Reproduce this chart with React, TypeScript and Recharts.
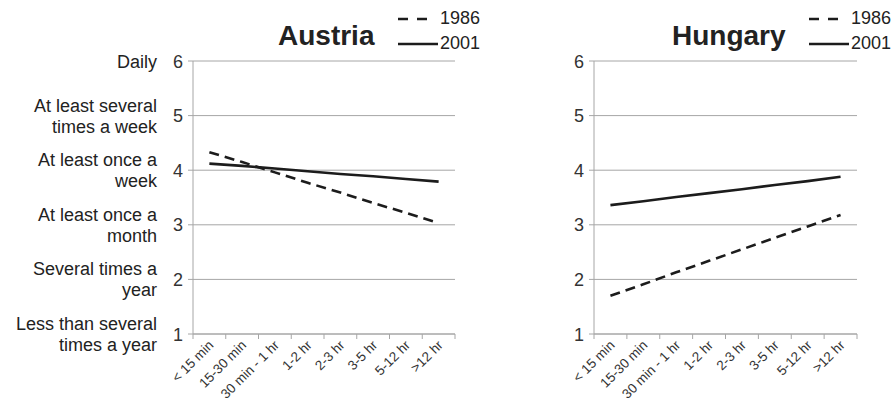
import { LineChart, Line, XAxis, YAxis, CartesianGrid, Legend } from "recharts"

const categories = ["< 15 min", "15-30 min", "30 min - 1 hr", "1-2 hr", "2-3 hr", "3-5 hr", "5-12 hr", ">12 hr"]
const austria1986 = [4.33, 4.15, 3.96, 3.77, 3.59, 3.4, 3.22, 3.03]
const austria2001 = [4.12, 4.08, 4.03, 3.98, 3.93, 3.89, 3.84, 3.79]
const hungary1986 = [1.7, 1.91, 2.13, 2.34, 2.55, 2.76, 2.97, 3.18]
const hungary2001 = [3.36, 3.43, 3.51, 3.58, 3.65, 3.73, 3.8, 3.88]
const yTicks = [1, 2, 3, 4, 5, 6]
const frequencyLabels = [
  ["Less than several", "times a year"],
  ["Several times a", "year"],
  ["At least once a", "month"],
  ["At least once a", "week"],
  ["At least several", "times a week"],
  ["Daily"],
]

const FONT = '"Liberation Sans", Arial, Helvetica, sans-serif'
const GRID = "#a6a6a6"
const INK = "#1c1c1c"

const series = [
  { key: "y1986", name: "1986", dash: "10 6", legendDash: "10 9" },
  { key: "y2001", name: "2001", dash: undefined, legendDash: undefined },
]

function buildRows(a: number[], b: number[]) {
  return categories.map((c, i) => ({ cat: c, y1986: a[i], y2001: b[i] }))
}

function YTick(props: any) {
  const { x, y, payload, showLabels } = props
  const v = payload.value
  const lines = frequencyLabels[v - 1] || []
  return (
    <g fontFamily={FONT}>
      <text x={x} y={y} dy={6.5} textAnchor="end" fontSize={18} fill="#333">
        {v}
      </text>
      {showLabels &&
        lines.map((l, i) => (
          <text
            key={i}
            x={x - 26}
            y={y + (i - (lines.length - 1) / 2) * 21}
            dy={6.5}
            textAnchor="end"
            fontSize={18}
            fill="#222"
          >
            {l}
          </text>
        ))}
    </g>
  )
}

function XTick(props: any) {
  const { x, y, payload, index } = props
  const off = payload.offset ?? 0
  return (
    <g fontFamily={FONT}>
      <line x1={x - off} y1={y} x2={x - off} y2={y + 5} stroke={GRID} />
      {index === categories.length - 1 && <line x1={x + off} y1={y} x2={x + off} y2={y + 5} stroke={GRID} />}
      <text transform={`translate(${x + 5},${y + 12}) rotate(-45)`} textAnchor="end" fontSize={13.5} fill="#333">
        {payload.value}
      </text>
    </g>
  )
}

function LegendContent(props: any) {
  const { payload } = props
  return (
    <div style={{ fontFamily: FONT }}>
      {(payload || []).map((e: any) => {
        const s = series.find((q) => q.name === e.value)
        const dashed = !!s?.legendDash
        return (
          <div key={e.value} style={{ display: "flex", alignItems: "center", height: 25 }}>
            <svg width={42} height={10} style={{ display: "block" }}>
              <line x1={0} y1={5} x2={dashed ? 29 : 40} y2={5} stroke={INK} strokeWidth={2.5} strokeDasharray={s?.legendDash} />
            </svg>
            <span style={{ fontSize: 18, color: "#222", lineHeight: "25px" }}>{e.value}</span>
          </div>
        )
      })}
    </div>
  )
}

function Panel({ rows, width, margin, yWidth, showLabels, legendLeft }: any) {
  return (
    <LineChart width={width} height={408} data={rows} margin={margin}>
      <CartesianGrid vertical={false} stroke={GRID} />
      <XAxis
        dataKey="cat"
        scale="band"
        height={74}
        interval={0}
        tickSize={0}
        tickMargin={0}
        tickLine={false}
        axisLine={{ stroke: GRID }}
        tick={(p: any) => <XTick {...p} />}
      />
      <YAxis
        width={yWidth}
        domain={[1, 6]}
        ticks={yTicks}
        type="number"
        tickSize={5}
        tickMargin={5}
        axisLine={{ stroke: GRID }}
        tickLine={{ stroke: GRID }}
        tick={(p: any) => <YTick {...p} showLabels={showLabels} />}
      />
      <Legend
        content={<LegendContent />}
        layout="vertical"
        align="center"
        verticalAlign="middle"
        wrapperStyle={{ position: "absolute", top: 6, left: legendLeft, width: 90, bottom: "auto", right: "auto" }}
      />
      {series.map((s) => (
        <Line
          key={s.key}
          dataKey={s.key}
          name={s.name}
          stroke={INK}
          strokeWidth={2.6}
          strokeDasharray={s.dash}
          dot={false}
          activeDot={false}
          isAnimationActive={false}
        />
      ))}
    </LineChart>
  )
}

export default function App() {
  return (
    <div style={{ position: "absolute", left: 0, top: 0, width: 894, height: 408, background: "#fff", fontFamily: FONT }}>
      <div style={{ position: "absolute", left: 0, top: 0 }}>
        <Panel
          rows={buildRows(austria1986, austria2001)}
          width={470}
          margin={{ top: 61, right: 15, bottom: 0, left: 0 }}
          yWidth={193}
          showLabels
          legendLeft={398}
        />
      </div>
      <div style={{ position: "absolute", left: 450, top: 0 }}>
        <Panel
          rows={buildRows(hungary1986, hungary2001)}
          width={444}
          margin={{ top: 61, right: 37, bottom: 0, left: 104 }}
          yWidth={40}
          showLabels={false}
          legendLeft={359}
        />
      </div>
      <svg width={894} height={60} style={{ position: "absolute", left: 0, top: 0, pointerEvents: "none" }}>
        <text x={278} y={45} fontSize={28} fontWeight="bold" fill="#222" fontFamily={FONT}>
          Austria
        </text>
        <text x={672} y={45} fontSize={28} fontWeight="bold" fill="#222" fontFamily={FONT}>
          Hungary
        </text>
      </svg>
    </div>
  )
}
